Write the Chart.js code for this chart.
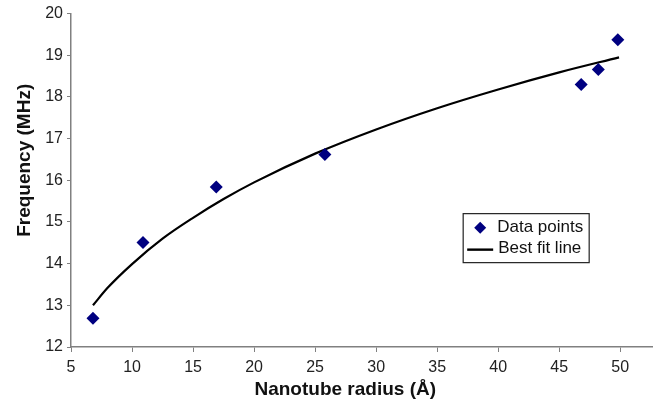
<!DOCTYPE html>
<html lang="en">
<head>
    <meta charset="UTF-8">
    <title>Frequency vs nanotube radius</title>
    <script src="https://cdn.jsdelivr.net/npm/chart.js"></script>
    <style>
        html, body { margin: 0; padding: 0; background: #fff; }
    </style>
</head>
<body>
    <canvas id="freqChart" width="660" height="407"></canvas>

    <script>
        // Measured points (radius in Å, frequency in MHz)
        const radius = [6.8, 10.9, 16.9, 25.8, 46.8, 48.2, 49.8];
        const frequency = [12.69, 14.51, 15.84, 16.62, 18.30, 18.66, 19.37];

        // Best fit curve
        const fitRadius = [6.8, 8, 10, 12.5, 15, 17.5, 20, 25, 30, 35, 40, 45, 49.9];
        const fitFrequency = [13.0, 13.42, 13.99, 14.60, 15.10, 15.55, 15.95, 16.64, 17.22, 17.73, 18.18, 18.59, 18.95];

        const xTicks = [5, 10, 15, 20, 25, 30, 35, 40, 45, 50];
        const yTicks = [12, 13, 14, 15, 16, 17, 18, 19, 20];

        const xTitle = 'Nanotube radius (Å)';
        const yTitle = 'Frequency (MHz)';

        const pointColor = '#000080';
        const axisColor = '#808080';
        const font = "'Liberation Sans', Arial, sans-serif";

        // Axis titles sit a little off-centre in the original, so draw them here
        const axisTitles = {
            id: 'axisTitles',
            afterDraw(chart) {
                const { ctx, chartArea } = chart;
                const w = chartArea.right - chartArea.left;
                const h = chartArea.bottom - chartArea.top;
                ctx.save();
                ctx.fillStyle = '#111';
                ctx.font = 'bold 19px ' + font;
                ctx.textAlign = 'center';
                ctx.textBaseline = 'alphabetic';
                ctx.fillText(xTitle, chartArea.left + w * 0.472, chartArea.bottom + 48);

                ctx.translate(chartArea.left - 46, chartArea.top + h * 0.44);
                ctx.rotate(-Math.PI / 2);
                ctx.textBaseline = 'middle';
                ctx.fillText(yTitle, 0, 0);
                ctx.restore();
            }
        };

        // Legend drawn inside the plot area, like the original
        const boxLegend = {
            id: 'boxLegend',
            afterDraw(chart) {
                const { ctx, chartArea } = chart;
                const x = chartArea.left + (chartArea.right - chartArea.left) * 0.675;
                const y = chartArea.top + (chartArea.bottom - chartArea.top) * 0.6;
                const w = 126, h = 49;
                ctx.save();
                ctx.fillStyle = '#fff';
                ctx.fillRect(x, y, w, h);
                ctx.strokeStyle = '#222';
                ctx.lineWidth = 1.2;
                ctx.strokeRect(x, y, w, h);

                const pts = chart.data.datasets[0];
                ctx.fillStyle = pts.backgroundColor;
                ctx.strokeStyle = pts.backgroundColor;
                Chart.helpers.drawPoint(ctx, {
                    pointStyle: 'rectRot', radius: 6, borderWidth: 0
                }, x + 17, y + 14);

                ctx.strokeStyle = '#000';
                ctx.lineWidth = 2.4;
                ctx.beginPath();
                ctx.moveTo(x + 4, y + 36);
                ctx.lineTo(x + 30, y + 36);
                ctx.stroke();

                ctx.fillStyle = '#111';
                ctx.font = '17px ' + font;
                ctx.textBaseline = 'middle';
                ctx.fillText('Data points', x + 34, y + 14);
                ctx.fillText('Best fit line', x + 35, y + 35);
                ctx.restore();
            }
        };

        const ctx = document.getElementById('freqChart').getContext('2d');
        new Chart(ctx, {
            type: 'scatter',
            data: {
                datasets: [{
                    label: 'Data points',
                    data: radius.map((r, i) => ({ x: r, y: frequency[i] })),
                    pointStyle: 'rectRot',
                    pointRadius: 6.5,
                    backgroundColor: pointColor,
                    borderColor: pointColor,
                    borderWidth: 0,
                    order: 1
                }, {
                    label: 'Best fit line',
                    data: fitRadius.map((r, i) => ({ x: r, y: fitFrequency[i] })),
                    showLine: true,
                    pointRadius: 0,
                    borderColor: '#000',
                    borderWidth: 2.2,
                    cubicInterpolationMode: 'monotone',
                    order: 2
                }]
            },
            options: {
                responsive: false,
                animation: false,
                devicePixelRatio: 1,
                layout: { padding: { top: 13, right: 8, left: 6, bottom: 4 } },
                plugins: {
                    legend: { display: false },
                    tooltip: { enabled: false }
                },
                scales: {
                    x: {
                        type: 'linear',
                        min: 5,
                        max: 52.6,
                        afterBuildTicks: scale => { scale.ticks = xTicks.map(v => ({ value: v })); },
                        afterFit: scale => { scale.height = 56; },
                        grid: { drawOnChartArea: false, color: axisColor, tickLength: 5 },
                        border: { color: axisColor, width: 1.5 },
                        ticks: { color: '#222', font: { family: font, size: 16 }, padding: 6, maxRotation: 0 }
                    },
                    y: {
                        min: 12,
                        max: 20,
                        afterBuildTicks: scale => { scale.ticks = yTicks.map(v => ({ value: v })); },
                        afterFit: scale => { scale.width = 65; },
                        grid: { drawOnChartArea: false, color: axisColor, tickLength: 4 },
                        border: { color: axisColor, width: 1.5 },
                        ticks: { color: '#222', font: { family: font, size: 16 }, padding: 4 }
                    }
                }
            },
            plugins: [axisTitles, boxLegend]
        });
    </script>
</body>
</html>
